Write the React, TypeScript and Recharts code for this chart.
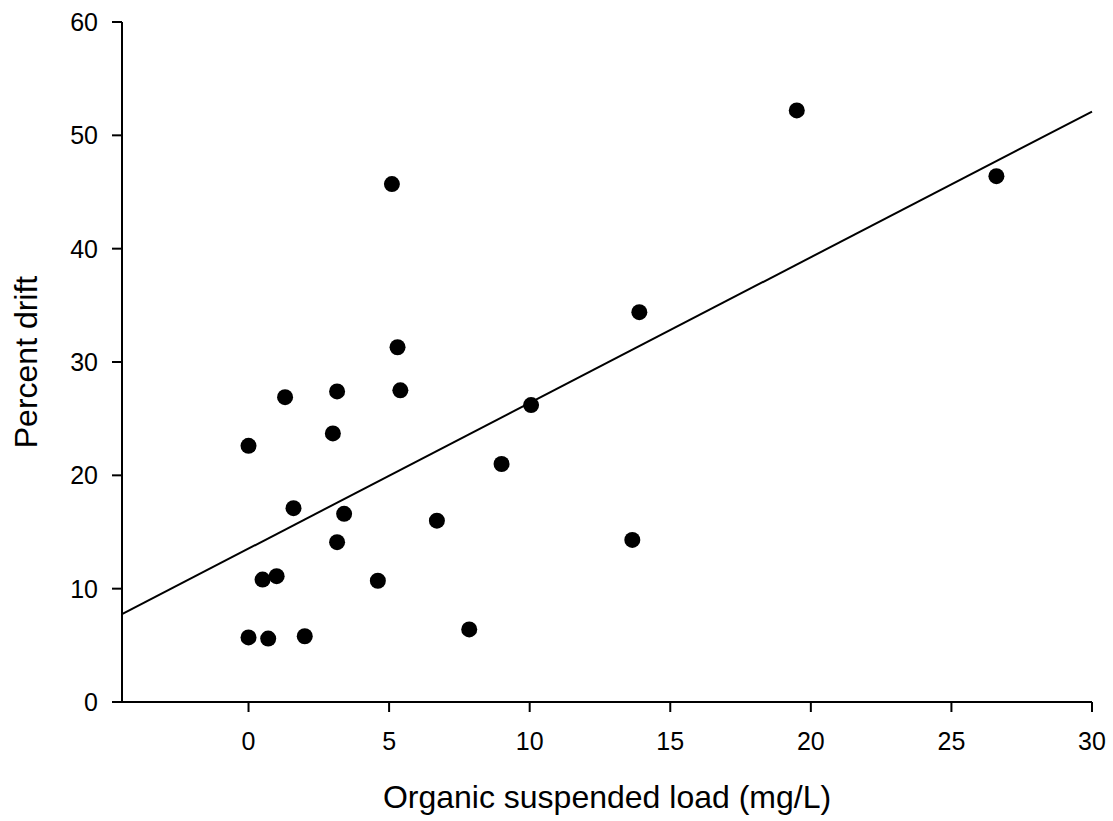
import React from 'react';
import {
  ComposedChart, Scatter, XAxis, YAxis, ReferenceLine, Label
} from 'recharts';

const loadValues = [
  0.0, 0.0, 0.5, 0.7, 1.0, 1.3, 1.6, 2.0, 3.0, 3.15, 3.15, 3.4,
  4.6, 5.1, 5.3, 5.4, 6.7, 7.85, 9.0, 10.05, 13.65, 13.9, 19.5, 26.6,
];
const driftValues = [
  22.6, 5.7, 10.8, 5.6, 11.1, 26.9, 17.1, 5.8, 23.7, 27.4, 14.1, 16.6,
  10.7, 45.7, 31.3, 27.5, 16.0, 6.4, 21.0, 26.2, 14.3, 34.4, 52.2, 46.4,
];
const fitLine = [
  { x: -4.5, y: 7.75 },
  { x: 30, y: 52.1 },
];
const xTicks = [0, 5, 10, 15, 20, 25, 30];
const yTicks = [0, 10, 20, 30, 40, 50, 60];

const points = loadValues.map((x, i) => ({ x, y: driftValues[i] }));

const FONT = '"Liberation Sans", Arial, Helvetica, sans-serif';
const axisStroke = { stroke: '#000', strokeWidth: 2 };

const Dot = (props: any) => {
  const { cx, cy } = props;
  if (cx == null || cy == null) return null;
  return <circle cx={cx} cy={cy} r={8} fill="#000" />;
};

const XTitle = (props: any) => {
  const vb = props.viewBox;
  return (
    <text
      x={vb.x + vb.width / 2}
      y={vb.y + vb.height - 13}
      textAnchor="middle"
      fontSize={32}
      fontFamily={FONT}
      fill="#000"
    >
      Organic suspended load (mg/L)
    </text>
  );
};

const YTitle = (props: any) => {
  const vb = props.viewBox;
  const x = vb.x + 37;
  const y = vb.y + vb.height / 2;
  return (
    <text
      x={x}
      y={y}
      transform={`rotate(-90, ${x}, ${y})`}
      textAnchor="middle"
      fontSize={32}
      fontFamily={FONT}
      fill="#000"
    >
      Percent drift
    </text>
  );
};

export default function App() {
  return (
    <div style={{ position: 'absolute', left: 0, top: 0, background: '#fff' }}>
      <ComposedChart
        width={1113}
        height={821}
        data={points}
        margin={{ top: 22, right: 21, bottom: 0, left: 0 }}
      >
        <XAxis
          type="number"
          dataKey="x"
          domain={[-4.5, 30]}
          ticks={xTicks}
          allowDataOverflow
          height={119}
          tickSize={10}
          tickMargin={20}
          axisLine={axisStroke}
          tickLine={axisStroke}
          tick={{ fill: '#000', fontSize: 25, fontFamily: FONT }}
        >
          <Label content={<XTitle />} />
        </XAxis>
        <YAxis
          type="number"
          dataKey="y"
          domain={[0, 60]}
          ticks={yTicks}
          allowDataOverflow
          width={122}
          tickSize={10}
          tickMargin={14}
          axisLine={axisStroke}
          tickLine={axisStroke}
          tick={{ fill: '#000', fontSize: 25, fontFamily: FONT }}
        >
          <Label content={<YTitle />} />
        </YAxis>
        <ReferenceLine
          segment={fitLine}
          stroke="#000"
          strokeWidth={2}
          ifOverflow="visible"
        />
        <Scatter
          data={points}
          dataKey="y"
          shape={<Dot />}
          isAnimationActive={false}
        />
      </ComposedChart>
    </div>
  );
}
